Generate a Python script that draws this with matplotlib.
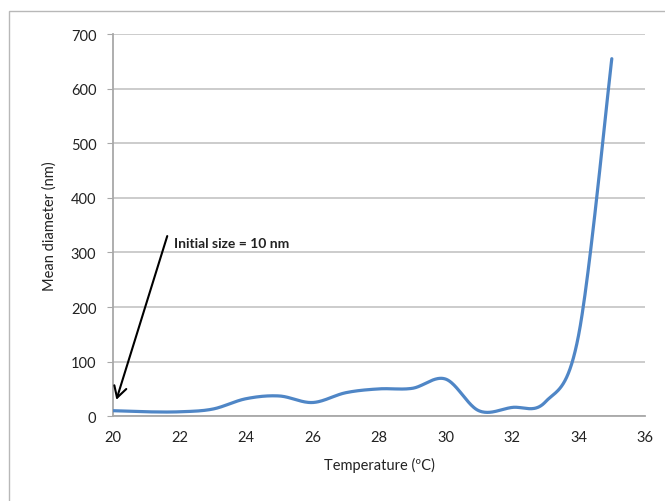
import matplotlib.pyplot as plt
import numpy as np
from matplotlib.patches import Rectangle

plt.rcParams['font.family'] = ['Lato', 'DejaVu Sans']

# Data: mean particle diameter vs temperature
temperature = [20, 21, 22, 23, 24, 25, 26, 27, 28, 29, 30, 31, 32, 33, 34, 35]
diameter = [10, 8, 8, 13, 32, 37, 25, 43, 50, 51, 68, 10, 16, 26, 148, 655]
y_ticks = [0, 100, 200, 300, 400, 500, 600, 700]
x_ticks = [20, 22, 24, 26, 28, 30, 32, 34, 36]


def smooth(xs, ys, n=40):
    # Catmull-Rom style smoothing, like a spreadsheet "smoothed line"
    xs = np.asarray(xs, float)
    ys = np.asarray(ys, float)
    px = np.concatenate([[xs[0]], xs, [xs[-1]]])
    py = np.concatenate([[ys[0]], ys, [ys[-1]]])
    out_x, out_y = [], []
    t = np.linspace(0, 1, n)
    for i in range(1, len(px) - 2):
        p0x, p1x, p2x, p3x = px[i - 1], px[i], px[i + 1], px[i + 2]
        p0y, p1y, p2y, p3y = py[i - 1], py[i], py[i + 1], py[i + 2]
        c1x, c1y = p1x + (p2x - p0x) / 6, p1y + (p2y - p0y) / 6
        c2x, c2y = p2x - (p3x - p1x) / 6, p2y - (p3y - p1y) / 6
        bx = (1 - t) ** 3 * p1x + 3 * (1 - t) ** 2 * t * c1x + 3 * (1 - t) * t ** 2 * c2x + t ** 3 * p2x
        by = (1 - t) ** 3 * p1y + 3 * (1 - t) ** 2 * t * c1y + 3 * (1 - t) * t ** 2 * c2y + t ** 3 * p2y
        out_x.extend(bx)
        out_y.extend(by)
    return np.array(out_x), np.array(out_y)


fig = plt.figure(figsize=(6.65, 5.02), dpi=100)
ax = fig.add_axes([0.170, 0.169, 0.800, 0.761])

# outer chart border
fig.patches.append(Rectangle((9 / 665, -0.01), 1.0, 1 - 12 / 502 + 0.01, transform=fig.transFigure,
                             fill=False, edgecolor='#b8b8b8', linewidth=1.0))

sx, sy = smooth(temperature, diameter)
ax.plot(sx, sy, color='#4F86C6', linewidth=2.3, solid_capstyle='round', zorder=3)

ax.set_xlim(20, 36)
ax.set_ylim(0, 700)
ax.set_xticks(x_ticks)
ax.set_yticks(y_ticks)
ax.grid(axis='y', color='#c8c8c8', linewidth=1.3)
ax.set_axisbelow(True)
for side in ['top', 'right']:
    ax.spines[side].set_visible(False)
for side in ['left', 'bottom']:
    ax.spines[side].set_color('#a8a8a8')
    ax.spines[side].set_linewidth(1.3)
ax.tick_params(axis='y', length=4, color='#a8a8a8', labelsize=10.5, pad=8, labelcolor='#222222')
ax.tick_params(axis='x', length=0, labelsize=10.5, pad=10, labelcolor='#222222')

ax.set_xlabel('Temperature (ºC)', fontsize=10.5, labelpad=9, color='#222222')
ax.set_ylabel('Mean diameter (nm)', fontsize=10.5, labelpad=10, color='#222222')

ax.annotate('', xy=(20.1, 30), xytext=(21.63, 330),
            arrowprops=dict(arrowstyle='->,head_length=0.8,head_width=0.45', color='black',
                            lw=1.5, mutation_scale=10, shrinkA=0, shrinkB=0))
ax.text(21.82, 317, 'Initial size = 10 nm', fontsize=10, fontweight='bold',
        va='center', ha='left', color='#222222')

fig.savefig('out.png', dpi=100)
